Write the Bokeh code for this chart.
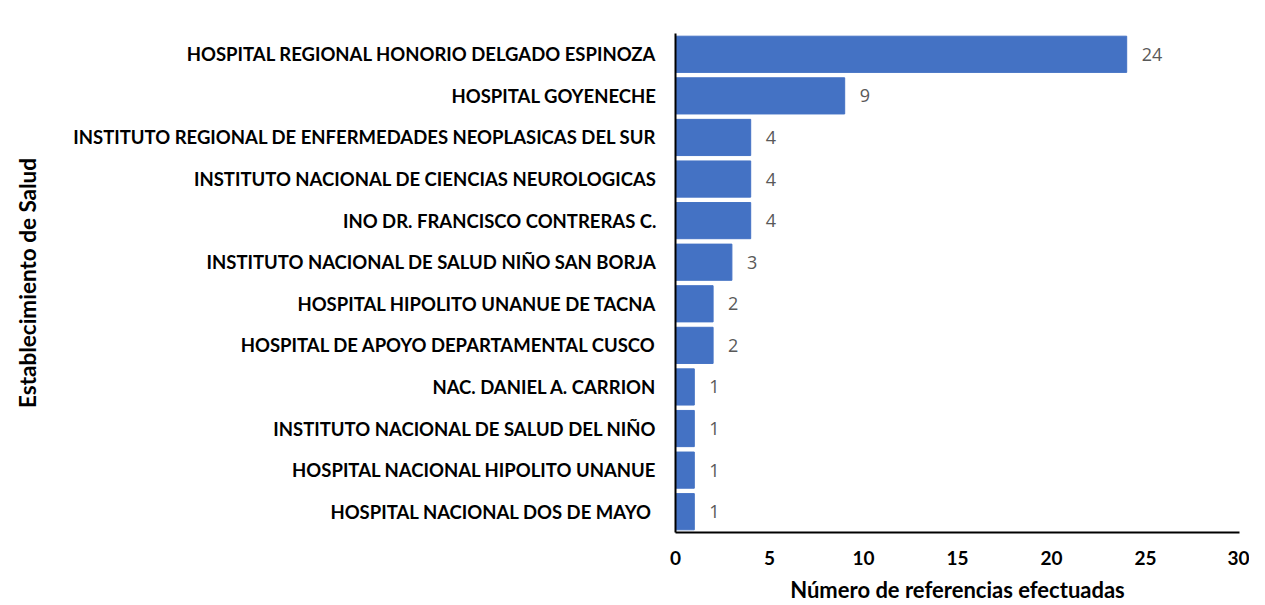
from bokeh.plotting import figure
from bokeh.models import ColumnDataSource, LabelSet, FactorRange, Range1d, FixedTicker
from bokeh.core.properties import value
from bokeh.embed import file_html
from bokeh.resources import INLINE

establecimientos = [
    "HOSPITAL REGIONAL HONORIO DELGADO ESPINOZA",
    "HOSPITAL GOYENECHE",
    "INSTITUTO REGIONAL DE ENFERMEDADES NEOPLASICAS DEL SUR",
    "INSTITUTO NACIONAL DE CIENCIAS NEUROLOGICAS",
    "INO DR. FRANCISCO CONTRERAS C.",
    "INSTITUTO NACIONAL DE SALUD NIÑO SAN BORJA",
    "HOSPITAL HIPOLITO UNANUE DE TACNA",
    "HOSPITAL DE APOYO DEPARTAMENTAL CUSCO",
    "NAC. DANIEL A. CARRION",
    "INSTITUTO NACIONAL DE SALUD DEL NIÑO",
    "HOSPITAL NACIONAL HIPOLITO UNANUE",
    "HOSPITAL NACIONAL  DOS DE MAYO",
]
referencias = [24, 9, 4, 4, 4, 3, 2, 2, 1, 1, 1, 1]
x_ticks = [0, 5, 10, 15, 20, 25, 30]
x_title = "Número de referencias efectuadas"
y_title = "Establecimiento de Salud"

FONT = "Lato"

source = ColumnDataSource(dict(
    est=establecimientos,
    val=referencias,
    lbl=[str(v) for v in referencias],
))

p = figure(
    width=1249, height=605,
    y_range=FactorRange(*reversed(establecimientos), range_padding=0),
    x_range=Range1d(0, 30),
    output_backend="svg", toolbar_location=None,
    min_border_left=675, min_border_right=10, min_border_top=33, min_border_bottom=72,
)
p.outline_line_color = None
p.xgrid.grid_line_color = None
p.ygrid.grid_line_color = None

p.hbar(y="est", right="val", left=0, height=0.87, source=source,
       fill_color="#4472C4", line_color="#4472C4")

labels = LabelSet(x="val", y="est", text="lbl", source=source,
                  x_offset=15, text_align="left", text_baseline="middle",
                  text_font=value("Open Sans"), text_font_size="18px",
                  text_color="#595959")
p.add_layout(labels)

p.xaxis.ticker = FixedTicker(ticks=x_ticks)
p.xaxis.axis_line_color = "black"
p.xaxis.axis_line_width = 2
p.xaxis.major_tick_line_color = None
p.xaxis.minor_tick_line_color = None
p.xaxis.major_label_text_font = FONT
p.xaxis.major_label_text_font_style = "bold"
p.xaxis.major_label_text_font_size = "19px"
p.xaxis.major_label_text_color = "black"
p.xaxis.major_label_standoff = 12
p.xaxis.axis_label = x_title
p.xaxis.axis_label_text_font = FONT
p.xaxis.axis_label_text_font_style = "bold"
p.xaxis.axis_label_text_font_size = "22px"
p.xaxis.axis_label_text_color = "black"
p.xaxis.axis_label_standoff = 8

p.yaxis.axis_line_color = "black"
p.yaxis.axis_line_width = 2
p.yaxis.major_tick_line_color = None
p.yaxis.minor_tick_line_color = None
p.yaxis.major_label_text_font = FONT
p.yaxis.major_label_text_font_style = "bold"
p.yaxis.major_label_text_font_size = "18.5px"
p.yaxis.major_label_text_color = "black"
p.yaxis.major_label_standoff = 13
p.yaxis.axis_label = y_title
p.yaxis.axis_label_text_font = FONT
p.yaxis.axis_label_text_font_style = "bold"
p.yaxis.axis_label_text_font_size = "22.5px"
p.yaxis.axis_label_text_color = "black"
p.yaxis.axis_label_standoff = 29

open("out.html", "w").write(file_html(p, INLINE))
